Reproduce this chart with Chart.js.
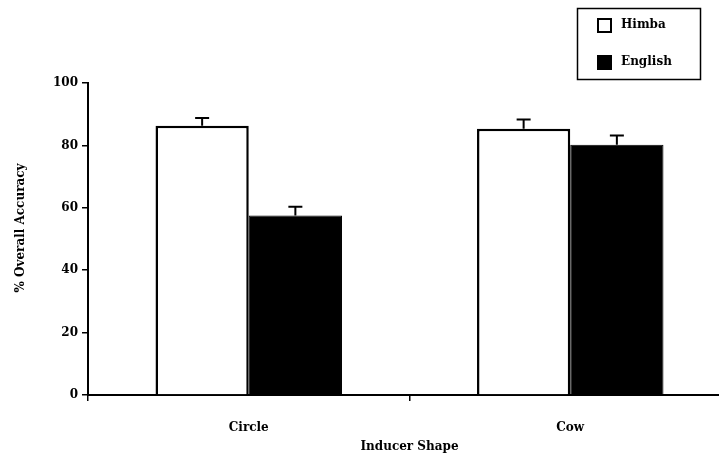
<!DOCTYPE html>
<html>
<head>
<meta charset="utf-8">
<script src="https://cdn.jsdelivr.net/npm/chart.js@4/dist/chart.umd.min.js"></script>
<style>
  body { margin: 0; background: #fff; overflow: hidden; }
  #wrap { width: 731px; height: 458px; }
</style>
</head>
<body>
<div id="wrap"><canvas id="chart" width="731" height="458"></canvas></div>
<script>
// data
var categories = ["Circle", "Cow"];
var himba = [86.3, 85.3];
var himba_err = [2.5, 3.0];
var english = [57.5, 80.2];
var english_err = [2.8, 3.0];
var y_title = "% Overall Accuracy";

var serif = "'DejaVu Serif', 'Liberation Serif', serif";

// error bars on top of each bar
var errorBars = {
    id: "errorBars",
    afterDatasetsDraw: function(chart) {
        var ctx = chart.ctx;
        var y = chart.scales.y;
        ctx.save();
        ctx.strokeStyle = "#000";
        ctx.lineWidth = 2;
        chart.data.datasets.forEach(function(ds, i) {
            var meta = chart.getDatasetMeta(i);
            meta.data.forEach(function(bar, j) {
                var top = y.getPixelForValue(ds.data[j] + ds.err[j]);
                ctx.beginPath();
                ctx.moveTo(bar.x, bar.y);
                ctx.lineTo(bar.x, top);
                ctx.moveTo(bar.x - 7, top);
                ctx.lineTo(bar.x + 7, top);
                ctx.stroke();
            });
        });
        ctx.restore();
    }
};

// boxed legend in the top right corner + y axis title (sits a bit above centre)
var boxLegend = {
    id: "boxLegend",
    afterDraw: function(chart) {
        var ctx = chart.ctx;
        ctx.save();
        ctx.strokeStyle = "#000";
        ctx.lineWidth = 1.5;
        ctx.strokeRect(577.5, 8.5, 123, 71);
        ctx.font = "bold 12px " + serif;
        ctx.textBaseline = "middle";
        ctx.fillStyle = "#000";
        chart.data.datasets.forEach(function(ds, i) {
            var yy = 25 + i * 37;
            ctx.fillStyle = ds.backgroundColor;
            ctx.fillRect(598, yy - 6, 13, 13);
            ctx.lineWidth = 2;
            ctx.strokeRect(598, yy - 6, 13, 13);
            ctx.fillStyle = "#000";
            ctx.fillText(ds.label, 621, yy);
        });

        ctx.translate(21, 228);
        ctx.rotate(-Math.PI / 2);
        ctx.textAlign = "center";
        ctx.fillText(y_title, 0, 0);
        ctx.restore();
    }
};

var ctx = document.getElementById("chart").getContext("2d");
var myChart = new Chart(ctx, {
    type: "bar",
    data: {
        labels: categories,
        datasets: [{
                label: "Himba",
                data: himba,
                err: himba_err,
                backgroundColor: "#fff",
                borderColor: "#000",
                borderWidth: 2.5,
            },
            {
                label: "English",
                data: english,
                err: english_err,
                backgroundColor: "#000",
                borderColor: "#000",
                borderWidth: 1,
            },
        ],
    },
    options: {
        responsive: false,
        animation: false,
        layout: { padding: { top: 83, left: 0, right: 0, bottom: 0 } },
        datasets: { bar: { barPercentage: 1, categoryPercentage: 0.58 } },
        scales: {
            x: {
                grid: { display: true, drawOnChartArea: false, offset: true, tickLength: 6, color: "#000", lineWidth: 1.5 },
                border: { color: "#000", width: 2 },
                ticks: { color: "#000", font: { family: serif, size: 12, weight: "bold" }, padding: 20 },
                title: { display: true, text: "Inducer Shape", color: "#000", font: { family: serif, size: 12, weight: "bold" }, padding: { top: 0, bottom: 4 } },
                afterFit: function(s) { s.height = 63; },
            },
            y: {
                min: 0,
                max: 100,
                grid: { display: true, drawOnChartArea: false, tickLength: 6, color: "#000", lineWidth: 1.5 },
                border: { color: "#000", width: 2 },
                ticks: { stepSize: 20, color: "#000", font: { family: serif, size: 12, weight: "bold" }, padding: 4 },
                afterFit: function(s) { s.width = 88; },
            },
        },
        plugins: {
            legend: { display: false },
            tooltip: { enabled: false },
        },
    },
    plugins: [errorBars, boxLegend],
});
</script>
</body>
</html>
